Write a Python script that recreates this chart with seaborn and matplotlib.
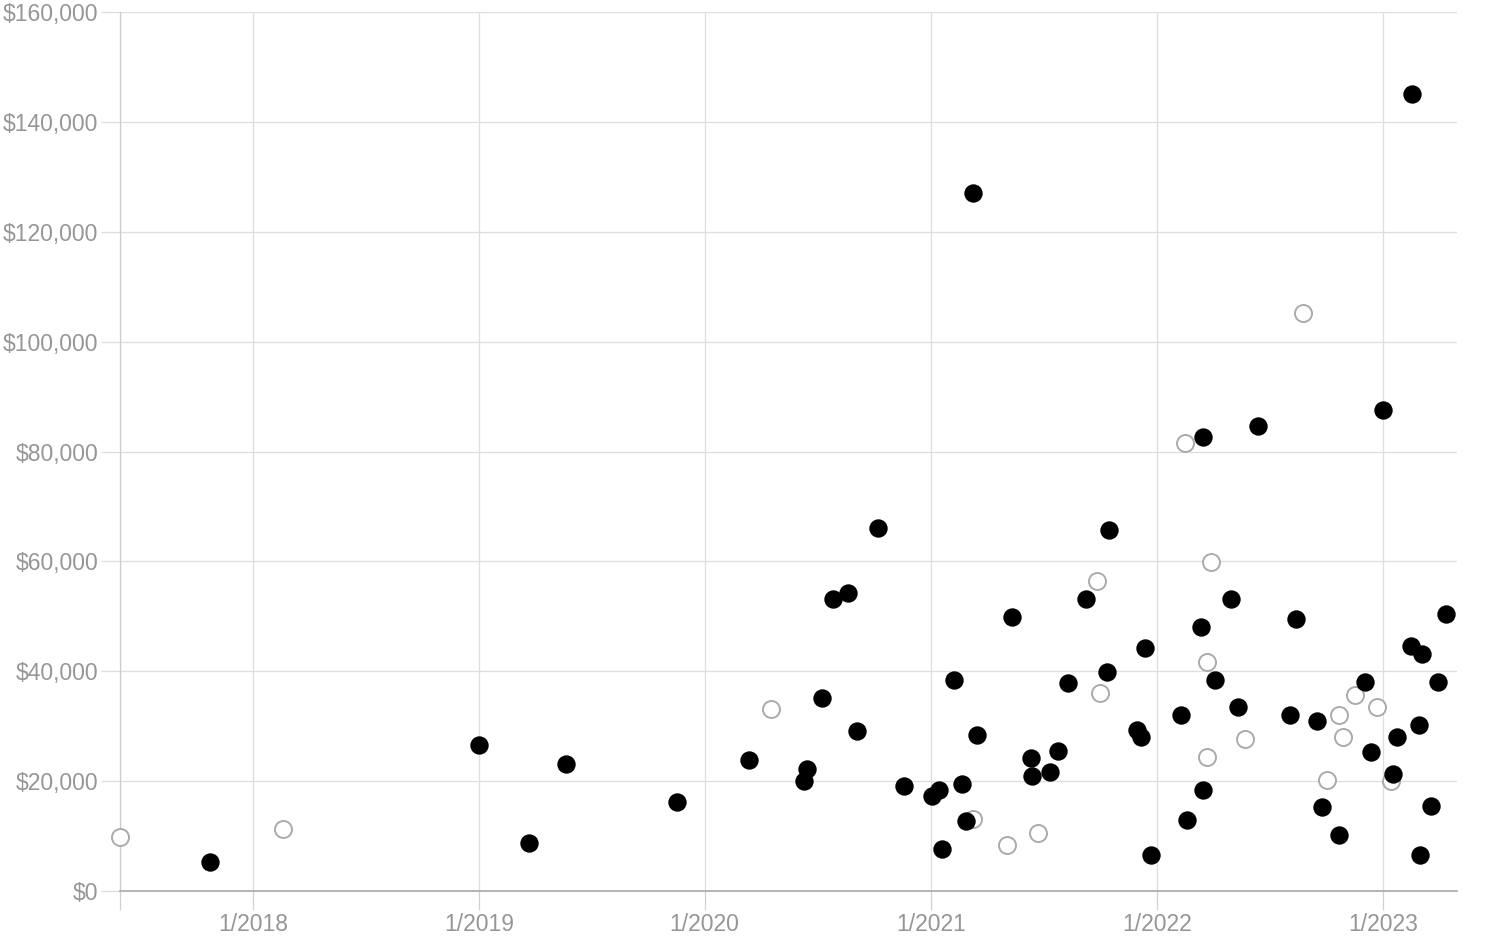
import pandas as pd
import matplotlib.pyplot as plt
import matplotlib.ticker as mticker
import seaborn as sns

# filled (black) points
filled_dates = [
    '2017-10-24', '2019-01-02', '2019-03-23', '2019-05-22', '2019-11-18',
    '2020-03-12', '2020-06-09', '2020-06-15', '2020-07-08', '2020-07-27',
    '2020-08-19', '2020-09-03', '2020-10-08', '2020-11-18', '2021-01-03',
    '2021-01-14', '2021-01-19', '2021-02-07', '2021-02-20', '2021-02-27',
    '2021-03-10', '2021-03-16', '2021-05-12', '2021-06-12', '2021-06-13',
    '2021-07-12', '2021-07-25', '2021-08-10', '2021-09-08', '2021-10-16',
    '2021-10-12', '2021-11-30', '2021-12-06', '2021-12-13', '2021-12-22',
    '2022-02-09', '2022-02-18', '2022-03-13', '2022-03-16', '2022-03-16',
    '2022-04-05', '2022-05-01', '2022-05-12', '2022-06-13', '2022-08-04',
    '2022-08-14', '2022-09-17', '2022-09-25', '2022-10-22', '2022-12-03',
    '2022-12-13', '2023-01-01', '2023-01-17', '2023-01-24', '2023-02-15',
    '2023-02-18', '2023-02-28', '2023-03-03', '2023-03-05', '2023-03-20',
    '2023-04-01', '2023-04-14',
]
filled_values = [
    5300, 26600, 8700, 23100, 16200,
    23800, 20000, 22200, 35200, 53200,
    54200, 29100, 66100, 19100, 17300,
    18400, 7600, 38400, 19500, 12700,
    127000, 28400, 49900, 24200, 20900,
    21700, 25500, 37900, 53200, 65700,
    39900, 29300, 28000, 44200, 6600,
    32000, 12900, 48100, 82600, 18400,
    38400, 53200, 33500, 84600, 32000,
    49500, 30900, 15300, 10200, 38000,
    25300, 87600, 21300, 28000, 44600,
    145000, 30200, 6600, 43100, 15500,
    38000, 50400,
]

# hollow (grey outline) points
hollow_dates = [
    '2017-05-31', '2018-02-18', '2020-04-18', '2021-03-10', '2021-05-04',
    '2021-06-23', '2021-09-26', '2021-10-01', '2022-02-15', '2022-03-29',
    '2022-03-23', '2022-03-23', '2022-05-23', '2022-08-25', '2022-10-03',
    '2022-10-22', '2022-10-29', '2022-11-17', '2022-12-22', '2023-01-14',
]
hollow_values = [
    9800, 11300, 33100, 13100, 8400,
    10600, 56400, 36000, 81500, 59900,
    41700, 24400, 27700, 105200, 20200,
    32000, 28000, 35700, 33500, 20000,
]

year_ticks = ['2018-01-01', '2019-01-01', '2020-01-01', '2021-01-01', '2022-01-01', '2023-01-01']
x_end = '2023-05-01'

df_filled = pd.DataFrame({'date': pd.to_datetime(filled_dates), 'value': filled_values})
df_hollow = pd.DataFrame({'date': pd.to_datetime(hollow_dates), 'value': hollow_values})

sns.set_theme(style="white")
plt.rcParams['font.family'] = ['Liberation Sans', 'DejaVu Sans']

grid_col = '#dedede'
label_col = '#969696'

fig = plt.figure(figsize=(15, 9.46), dpi=100)
ax = fig.add_axes([0.08, 0.0581, 0.8913, 0.9292])

sns.scatterplot(data=df_hollow, x='date', y='value', ax=ax, s=150,
                facecolor='white', edgecolor='#ababab', linewidth=1.4,
                zorder=3, clip_on=False)
sns.scatterplot(data=df_filled, x='date', y='value', ax=ax, s=175,
                color='black', edgecolor='black', linewidth=0,
                zorder=4, clip_on=False)

x_start = df_hollow['date'].min()
ax.set_xlim(x_start, pd.Timestamp(x_end))
ax.set_ylim(0, 160000)

tick_dates = [x_start] + list(pd.to_datetime(year_ticks))
ax.set_xticks(tick_dates)
ax.set_xticklabels([''] + [f"{d.month}/{d.year}" for d in pd.to_datetime(year_ticks)])
ax.yaxis.set_major_locator(mticker.MultipleLocator(20000))
ax.yaxis.set_major_formatter(mticker.FuncFormatter(lambda v, p: f"${v:,.0f}"))

ax.grid(True, color=grid_col, linewidth=0.9)
ax.set_axisbelow(True)
ax.tick_params(axis='both', bottom=True, left=True, length=14, width=0.9,
               color=grid_col, labelcolor=label_col, labelsize=16.5, pad=1.5)
ax.tick_params(axis='x', color='#d0d0d0')

for side in ['top', 'right']:
    ax.spines[side].set_visible(False)
ax.spines['left'].set_color('#cccccc')
ax.spines['left'].set_linewidth(0.9)
ax.spines['bottom'].set_color('#a8a8a8')
ax.spines['bottom'].set_linewidth(1.2)

ax.set_xlabel('')
ax.set_ylabel('')

plt.savefig('out.png', dpi=100)
